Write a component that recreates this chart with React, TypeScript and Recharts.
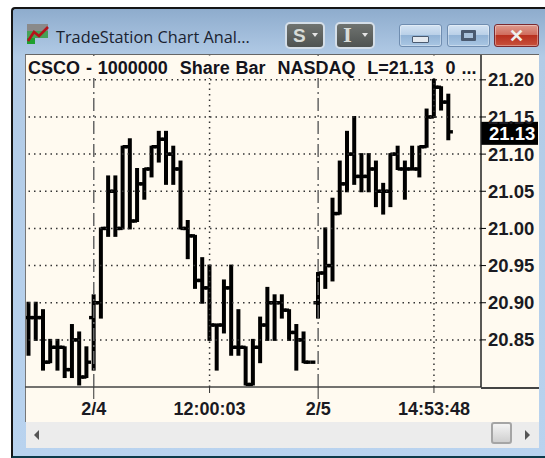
import React from "react";
import { ComposedChart, Bar, XAxis, YAxis, ReferenceLine } from "recharts";

// OHLC values, one entry per bar
const opens = [20.88, 20.88, 20.88, 20.82, 20.84, 20.84, 20.81, 20.85, 20.8, 20.88, 20.9, 21.0, 21.05, 21.0, 21.11, 21.01, 21.06, 21.08, 21.11, 21.12, 21.1, 21.08, 21.0, 20.99, 20.93, 20.92, 20.87, 20.87, 20.92, 20.84, 20.84, 20.79, 20.84, 20.87, 20.9, 20.9, 20.89, 20.86, 20.85, 20.82, 20.9, 20.94, 20.95, 21.02, 21.06, 21.1, 21.07, 21.07, 21.08, 21.05, 21.05, 21.1, 21.08, 21.08, 21.08, 21.11, 21.15, 21.19, 21.17];
const highs = [20.9, 20.9, 20.89, 20.85, 20.85, 20.84, 20.87, 20.86, 20.84, 20.91, 21.0, 21.07, 21.07, 21.11, 21.12, 21.08, 21.08, 21.11, 21.13, 21.13, 21.11, 21.09, 21.01, 20.99, 20.96, 20.95, 20.87, 20.93, 20.95, 20.89, 20.84, 20.85, 20.88, 20.92, 20.91, 20.91, 20.89, 20.87, 20.86, 20.82, 20.94, 21.0, 21.04, 21.09, 21.13, 21.15, 21.1, 21.1, 21.09, 21.06, 21.1, 21.11, 21.09, 21.11, 21.11, 21.16, 21.2, 21.19, 21.18];
const lows = [20.83, 20.85, 20.81, 20.82, 20.81, 20.8, 20.8, 20.79, 20.8, 20.81, 20.88, 20.99, 20.99, 21.0, 21.0, 21.01, 21.04, 21.07, 21.09, 21.06, 21.06, 21.0, 20.96, 20.92, 20.9, 20.85, 20.81, 20.86, 20.83, 20.83, 20.79, 20.79, 20.82, 20.85, 20.85, 20.88, 20.85, 20.81, 20.82, 20.82, 20.88, 20.92, 20.93, 21.02, 21.05, 21.06, 21.05, 21.05, 21.03, 21.02, 21.03, 21.08, 21.04, 21.08, 21.07, 21.11, 21.15, 21.16, 21.12];
const closes = [20.88, 20.88, 20.82, 20.84, 20.84, 20.81, 20.85, 20.8, 20.82, 20.9, 21.0, 21.05, 21.0, 21.11, 21.01, 21.06, 21.08, 21.11, 21.12, 21.1, 21.08, 21.0, 20.99, 20.93, 20.92, 20.87, 20.87, 20.92, 20.84, 20.84, 20.79, 20.84, 20.87, 20.9, 20.9, 20.89, 20.86, 20.85, 20.82, 20.82, 20.94, 20.95, 21.02, 21.06, 21.1, 21.07, 21.07, 21.08, 21.05, 21.05, 21.1, 21.08, 21.08, 21.08, 21.11, 21.15, 21.19, 21.17, 21.13];

const SLOT_COUNT = 63; // empty slots to the right of the last bar
const yTicks = [20.85, 20.9, 20.95, 21.0, 21.05, 21.1, 21.15, 21.2];
const xTickSlots = [9, 25, 40, 56];
const xTickLabels = ["2/4", "12:00:03", "2/5", "14:53:48"];
const dayBreaks = [9, 40];
const timeMarks = [25, 56];
const lastPrice = 21.13;

const CREAM = "#fffaf0";
const FONT = "'Liberation Sans', Arial, sans-serif";

const rows = Array.from({ length: SLOT_COUNT }, (_, i) =>
  i < opens.length
    ? { slot: i, range: [lows[i], highs[i]], open: opens[i], high: highs[i], low: lows[i], close: closes[i] }
    : { slot: i, range: null }
);

function OhlcShape({ x, y, width, height, payload }: any) {
  if (payload.open == null) return null;
  const cx = x + width / 2;
  const span = payload.high - payload.low;
  const at = (v: number) => (span > 0 ? y + ((payload.high - v) / span) * height : y);
  return (
    <g stroke="#000" strokeWidth={4}>
      {span > 0 && <line x1={cx} x2={cx} y1={y - 1} y2={y + height + 1} />}
      <line x1={Math.max(26, cx - 4.6)} x2={cx} y1={at(payload.open)} y2={at(payload.open)} strokeWidth={3.4} />
      <line x1={cx} x2={cx + 4.6} y1={at(payload.close)} y2={at(payload.close)} strokeWidth={3.4} />
    </g>
  );
}

function TimeTick({ x, y, payload }: any) {
  const idx = xTickSlots.indexOf(payload.value);
  const long = dayBreaks.includes(payload.value);
  return (
    <g>
      <line x1={x} x2={x} y1={387} y2={long ? 399 : 393} stroke="#333" strokeWidth={1} />
      <text x={x} y={415} textAnchor="middle" fontFamily={FONT} fontSize={18} fontWeight={700} fill="#1a1a22">
        {xTickLabels[idx]}
      </text>
    </g>
  );
}

function PriceTag({ viewBox }: any) {
  const yy = viewBox.y;
  return (
    <g>
      <rect x={481} y={yy - 10} width={57} height={23} fill="#000" />
      <text x={489} y={yy + 8} fontFamily={FONT} fontSize={18.5} fontWeight={700} fill="#fff">
        {lastPrice.toFixed(2)}
      </text>
    </g>
  );
}

function AeroButton({ left, width, bg, border, children }: any) {
  return (
    <div
      style={{
        position: "absolute",
        left,
        top: 24,
        width,
        height: 23,
        boxSizing: "border-box",
        borderRadius: 3,
        border: `1px solid ${border}`,
        boxShadow: "inset 0 0 0 1px rgba(255,255,255,0.35)",
        background: bg,
        display: "flex",
        alignItems: "center",
        justifyContent: "center",
      }}
    >
      {children}
    </div>
  );
}

function DarkButton({ left, glyph, font }: any) {
  return (
    <div
      style={{
        position: "absolute",
        left,
        top: 22,
        width: 40,
        height: 27,
        boxSizing: "border-box",
        borderRadius: 5,
        border: "2px solid #d4dee8",
        background: "linear-gradient(#6f7370, #4f5351)",
        color: "#d8dcd8",
        fontFamily: font,
        fontWeight: 700,
        fontSize: 19,
        lineHeight: "23px",
        paddingLeft: 6,
      }}
    >
      {glyph}
      <span
        style={{
          position: "absolute",
          right: 5,
          top: 9,
          borderLeft: "3px solid transparent",
          borderRight: "3px solid transparent",
          borderTop: "4px solid #e4e4e4",
        }}
      />
    </div>
  );
}

export default function App() {
  return (
    <div style={{ position: "fixed", left: 0, top: 0, width: 545, height: 458, background: "#fff", overflow: "hidden" }}>
      {/* window frame */}
      <div
        style={{
          position: "absolute",
          left: 11,
          top: 7,
          width: 540,
          height: 451,
          boxSizing: "border-box",
          border: "2px solid #151515",
          borderRight: "none",
          borderBottomColor: "#0d3a4a",
          borderRadius: "4px 0 0 0",
          background: "linear-gradient(#8eaccd 0, #b2cbe6 48px, #b9d3ef 100%)",
        }}
      />
      <svg style={{ position: "absolute", left: 26, top: 23 }} width={24} height={22}>
        <rect x={1} y={1} width={21} height={7} fill="#8a8a8a" />
        <rect x={1} y={8} width={21} height={7} fill="#2f9a35" opacity={0.8} />
        <rect x={1} y={15} width={8} height={6} fill="#1fa02f" />
        <polyline points="2,18 8,9 13,13 22,4" fill="none" stroke="#b5121a" strokeWidth={2.6} />
      </svg>
      <div style={{ position: "absolute", left: 56, top: 26, fontFamily: "'Open Sans', 'Noto Sans', sans-serif", fontSize: 16.3, color: "#1a2230", whiteSpace: "nowrap" }}>
        TradeStation Chart Anal...
      </div>
      <DarkButton left={285} glyph="S" font={FONT} />
      <DarkButton left={335} glyph="I" font="'DejaVu Serif', serif" />
      <AeroButton left={399} width={43} border="#6f8db0" bg="linear-gradient(#d4e3f3 0, #b8cfe7 50%, #93b4d6 50%, #a9c6e3 100%)">
        <span style={{ width: 15, height: 5, marginTop: 8, background: "#e4e9ef", border: "1px solid #4a5a70", borderRadius: 1 }} />
      </AeroButton>
      <AeroButton left={447} width={43} border="#6f8db0" bg="linear-gradient(#d4e3f3 0, #b8cfe7 50%, #93b4d6 50%, #a9c6e3 100%)">
        <span style={{ width: 9, height: 5, background: "#a9c2dc", border: "3px solid #4a5a70", borderRadius: 1 }} />
      </AeroButton>
      <AeroButton left={494} width={45} border="#7a2a30" bg="linear-gradient(#dd9a8e 0, #cf6a5a 50%, #b8301f 50%, #c8513c 100%)">
        <span style={{ color: "#eee", fontFamily: FONT, fontWeight: 700, fontSize: 18, lineHeight: "18px" }}>✕</span>
      </AeroButton>

      {/* chart panel */}
      <div style={{ position: "absolute", left: 25, top: 54, width: 514, height: 368, background: CREAM, borderLeft: "1px solid #777", borderTop: "1px solid #666", boxSizing: "border-box" }} />
      <div style={{ position: "absolute", left: 481, top: 387, width: 58, height: 1.5, background: "#444" }} />
      <div style={{ position: "absolute", left: 0, top: 0 }}>
        <ComposedChart width={545} height={458} data={rows} margin={{ top: 55, right: 0, bottom: 36, left: 25 }} barCategoryGap={0}>
          <XAxis dataKey="slot" type="category" ticks={xTickSlots} interval={0} height={35} tick={<TimeTick />} tickLine={false} axisLine={{ stroke: "#444", strokeWidth: 1.5 }} />
          <YAxis
            orientation="right"
            width={64}
            domain={[20.7866, 21.2334]}
            allowDataOverflow
            ticks={yTicks}
            interval={0}
            tickFormatter={(v: number) => v.toFixed(2)}
            tick={{ fill: "#1a1a22", fontSize: 18.5, fontFamily: FONT, fontWeight: 700 }}
            tickLine={{ stroke: "#000" }}
            tickSize={5}
            tickMargin={2}
            axisLine={{ stroke: "#222", strokeWidth: 1.5 }}
          />
          {yTicks.map((v) => (
            <ReferenceLine key={v} y={v} stroke="#333" strokeWidth={1.5} strokeDasharray="1.5 4" />
          ))}
          {timeMarks.map((v) => (
            <ReferenceLine key={v} x={v} stroke="#333" strokeWidth={1.5} strokeDasharray="1.5 4" />
          ))}
          {dayBreaks.map((v) => (
            <ReferenceLine key={v} x={v} stroke="#666" strokeWidth={1.5} strokeDasharray="13 4 2 4" />
          ))}
          <Bar dataKey="range" shape={<OhlcShape />} isAnimationActive={false} />
          <ReferenceLine y={lastPrice} stroke="none" label={<PriceTag />} />
        </ComposedChart>
      </div>
      {/* title strip sits over the vertical grid lines */}
      <div
        style={{
          position: "absolute",
          left: 26,
          top: 56,
          width: 454,
          height: 22,
          background: CREAM,
          paddingLeft: 2,
          boxSizing: "border-box",
          fontFamily: FONT,
          fontWeight: 700,
          fontSize: 18,
          lineHeight: "24px",
          wordSpacing: 0.9,
          color: "#14141c",
          whiteSpace: "pre",
          overflow: "hidden",
        }}
      >
        {"CSCO - 1000000  Share Bar  NASDAQ  L=21.13  0 ..."}
      </div>

      {/* scrollbar */}
      <div style={{ position: "absolute", left: 26, top: 422, width: 513, height: 26, background: "#ececec" }} />
      <div style={{ position: "absolute", left: 34, top: 430, borderTop: "5px solid transparent", borderBottom: "5px solid transparent", borderRight: "5px solid #555" }} />
      <div style={{ position: "absolute", left: 525, top: 430, borderTop: "5px solid transparent", borderBottom: "5px solid transparent", borderLeft: "5px solid #555" }} />
      <div style={{ position: "absolute", left: 491, top: 422, width: 21, height: 22, boxSizing: "border-box", background: "linear-gradient(#f4f4f4, #cfcfcf)", border: "2px solid #a5a5a5", borderRadius: 3 }} />
    </div>
  );
}
